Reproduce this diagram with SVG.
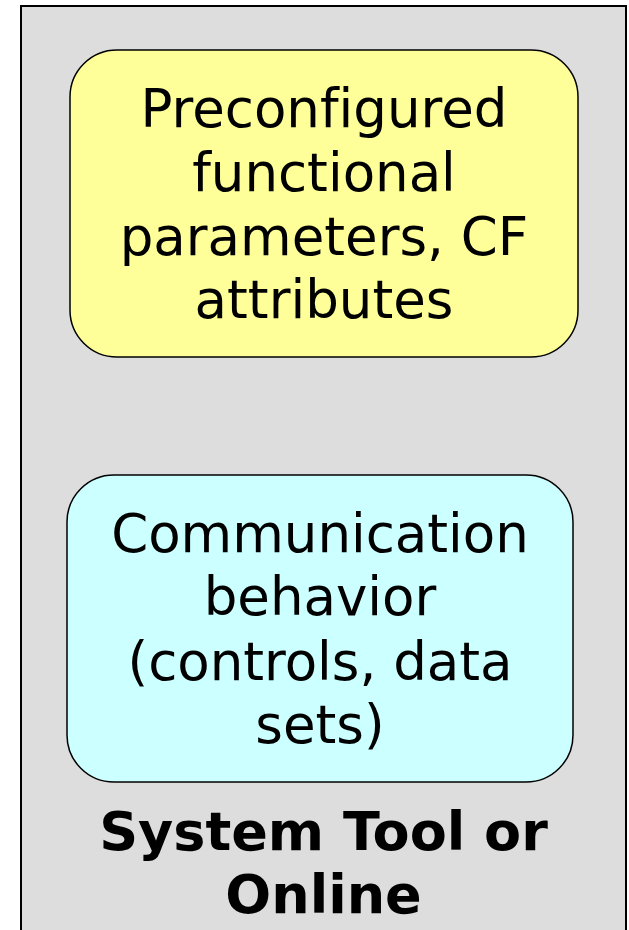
<svg xmlns="http://www.w3.org/2000/svg" width="629" height="930" viewBox="0 0 629 930">
<style>
.t{font-family:"DejaVu Sans",Verdana,sans-serif;font-size:53px;fill:#000;text-anchor:middle;font-variant-ligatures:none}
.b{font-weight:bold;font-size:54px}
.box{stroke:#000;stroke-width:1.5}
</style>
<g id="container">
<rect x="21" y="6" width="605" height="940" fill="#DDDDDD" stroke="#000" stroke-width="2"/>
<text class="t b" x="323.5" y="850">System Tool or</text>
<text class="t b" x="323.5" y="913">Online</text>
</g>
<g id="preconfigured">
<rect class="box" x="70" y="50" width="508" height="307" rx="47" ry="47" fill="#FFFF99"/>
<text class="t" x="324" y="127">Preconfigured</text>
<text class="t" x="324" y="191">functional</text>
<text class="t" x="324" y="255">parameters, CF</text>
<text class="t" x="324" y="318">attributes</text>
</g>
<g id="communication">
<rect class="box" x="67" y="475" width="506" height="307" rx="47" ry="47" fill="#CCFFFF"/>
<text class="t" x="320" y="552">Communication</text>
<text class="t" x="320" y="615">behavior</text>
<text class="t" x="320" y="680">(controls, data</text>
<text class="t" x="320" y="743">sets)</text>
</g>
<g id="connectors"/>
</svg>
